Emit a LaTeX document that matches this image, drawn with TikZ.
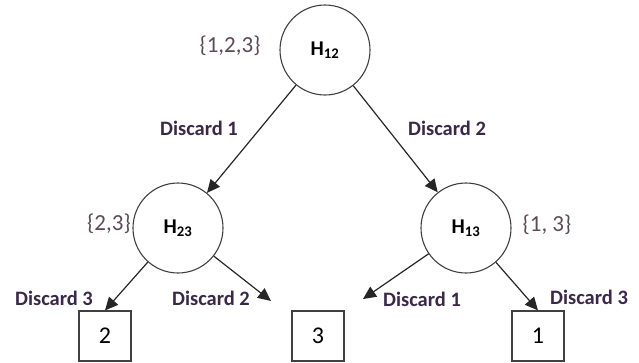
\documentclass[tikz,border=0pt]{standalone}
\usepackage{fontspec}
\setmainfont{Carlito}
\usetikzlibrary{arrows.meta}
\definecolor{disc}{RGB}{58,40,72}
\definecolor{setc}{RGB}{92,74,88}
\begin{document}
\begin{tikzpicture}[x=1pt,y=-1pt,
  hnode/.style={draw=black!75,line width=1.1pt,circle,minimum size=90pt,inner sep=0pt,font=\fontsize{21}{25}\selectfont\bfseries},
  leaf/.style={draw=black!75,line width=1.1pt,minimum width=52pt,minimum height=50pt,inner sep=0pt,font=\fontsize{24}{28}\selectfont},
  arr/.style={draw=black!85,line width=1.2pt,-{Triangle[length=13pt,width=12pt]}},
  lab/.style={text=disc,font=\fontsize{20.5}{24}\selectfont\bfseries,inner sep=0pt},
  setl/.style={text=setc,font=\fontsize{23}{26}\selectfont,inner sep=0pt}]
\useasboundingbox (0,0) rectangle (639,362);
\node[hnode] (h12) at (325,50) {H\textsubscript{12}};
\node[hnode] (h23) at (178,228) {H\textsubscript{23}};
\node[hnode] (h13) at (466,228) {H\textsubscript{13}};
\node[leaf] (b2) at (105,336) {2};
\node[leaf] (b3) at (318,336) {3};
\node[leaf] (b1) at (538,336) {1};
\coordinate (e2) at (271,301);
\coordinate (e1) at (363,299);
\draw[arr] (h12) -- (h23);
\draw[arr] (h12) -- (h13);
\draw[arr] (h23) -- (b2.north);
\draw[arr] (h23) -- (e2);
\draw[arr] (h13) -- (e1);
\draw[arr] (h13) -- (b1.north);
\node[lab] (l1) at (199,128) {Discard 1};
\node[lab] (l2) at (447,128) {Discard 2};
\node[lab] (l3) at (54,298) {Discard 3};
\node[lab] (l4) at (211,298) {Discard 2};
\node[lab] (l5) at (422,299) {Discard 1};
\node[lab] (l6) at (589,297) {Discard 3};
\node[setl] (s1) at (230,46) {\{1,2,3\}};
\node[setl] (s2) at (109,224) {\{2,3\}};
\node[setl] (s3) at (547,225) {\{1, 3\}};
\end{tikzpicture}
\end{document}
